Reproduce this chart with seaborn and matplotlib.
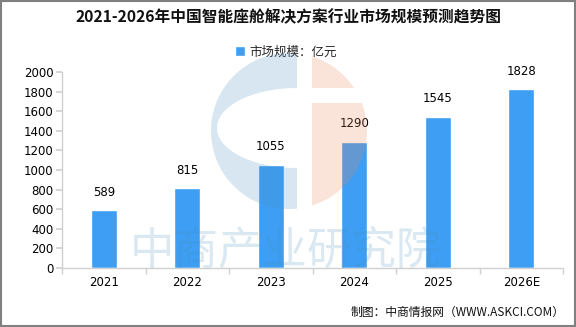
import numpy as np
import pandas as pd
import matplotlib
matplotlib.use("Agg")
import matplotlib.pyplot as plt
import seaborn as sns
from matplotlib.patches import Polygon, Circle, Rectangle

years = ["2021", "2022", "2023", "2024", "2025", "2026E"]
values = [589, 815, 1055, 1290, 1545, 1828]
yticks = [0, 200, 400, 600, 800, 1000, 1200, 1400, 1600, 1800, 2000]
title = "2021-2026年中国智能座舱解决方案行业市场规模预测趋势图"
legend_label = "市场规模：亿元"
footer = "制图：中商情报网（WWW.ASKCI.COM）"
watermark = "中商产业研究院"

sns.set_theme(style="white")
plt.rcParams['font.family'] = ['Noto Sans CJK SC', 'DejaVu Sans']

W, H = 576, 327
fig = plt.figure(figsize=(W / 100, H / 100), dpi=100)
fig.patch.set_facecolor("white")

ax = fig.add_axes([62 / W, (H - 268) / H, 501 / W, 196 / H])
df = pd.DataFrame({"year": years, "value": values})
bar_color = "#3d9ef3"
sns.barplot(data=df, x="year", y="value", color=bar_color, width=0.31,
            saturation=1, ax=ax, label=legend_label)
ax.set_ylim(0, 2000)
ax.set_xlim(-0.5, len(years) - 0.5)
ax.set_yticks(yticks)
ax.set_xlabel("")
ax.set_ylabel("")
for s in ["top", "right"]:
    ax.spines[s].set_visible(False)
for s in ["left", "bottom"]:
    ax.spines[s].set_color("#d0d0d0")
    ax.spines[s].set_linewidth(1)
ax.tick_params(axis="y", which="major", left=True, length=4, color="#d0d0d0",
               labelsize=8.5, labelcolor="black", pad=2)
ax.tick_params(axis="x", which="major", bottom=False, length=0,
               labelsize=8.5, labelcolor="black", pad=6)
ax.set_xticks(np.arange(-0.5, len(years)), minor=True)
ax.tick_params(axis="x", which="minor", bottom=True, length=4, color="#d0d0d0")
for lab in ax.get_xticklabels() + ax.get_yticklabels():
    lab.set_fontfamily("DejaVu Sans")

for c in ax.containers:
    ax.bar_label(c, labels=[str(v) for v in values], padding=8,
                 fontsize=8.5, color="black", fontfamily="DejaVu Sans")

leg = ax.legend(loc="center", bbox_to_anchor=(286 / W, (H - 52) / H),
                bbox_transform=fig.transFigure, frameon=False, fontsize=9,
                handlelength=0.8, handleheight=0.8, handletextpad=0.4)

fig.text(0.5, (H - 17) / H, title, ha="center", va="center",
         fontsize=11.3, fontweight="bold", color="#111111")
fig.text(565 / W, (H - 312) / H, footer, ha="right", va="center",
         fontsize=8.5, color="#111111")

# watermark overlay
ov = fig.add_axes([0, 0, 1, 1], zorder=5)
ov.set_xlim(0, W)
ov.set_ylim(H, 0)
ov.axis("off")
ov.patch.set_alpha(0)
cx, cy, r = 289, 131, 78
t0 = np.arccos(8 / r)
t = np.linspace(-t0, -(2 * np.pi - t0), 120)
outer = np.column_stack([cx + r * np.cos(t), cy + r * np.sin(t)])
s = np.linspace(np.pi / 2, 3 * np.pi / 2, 80)
inner = np.column_stack([297 + 80 * np.cos(s), 128 + 40 * np.sin(s)])
blue_poly = np.vstack([outer, [[297, 168]], inner])
ov.add_patch(Polygon(blue_poly, closed=True, facecolor="#4a8fbf", alpha=0.22,
                     edgecolor="none"))
for (y0, y1) in [(0, 88), (103, 330)]:
    circ = Circle((cx, cy), r, facecolor="#eb8757", alpha=0.22, edgecolor="none")
    ov.add_patch(circ)
    clip = Rectangle((312, y0), 100, y1 - y0, transform=ov.transData)
    circ.set_clip_path(clip)
ov.text(286, 251, watermark, ha="center", va="center", fontsize=32,
        fontweight="medium", color="#4a8fbf", alpha=0.2)

# figure border
ov.add_patch(Rectangle((0.5, 0.5), W - 1.5, H - 1.5, facecolor="none",
                       edgecolor="#808080", linewidth=1.5))

fig.savefig("out.png", dpi=100)
